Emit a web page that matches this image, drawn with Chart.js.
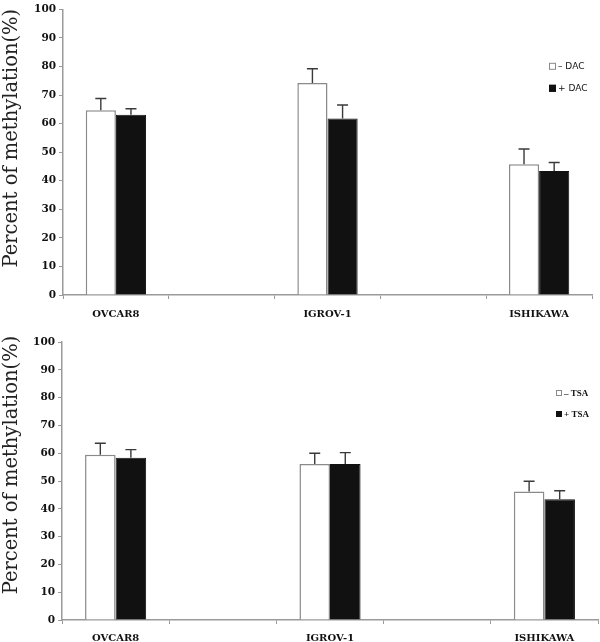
<!DOCTYPE html>
<html>
<head>
<meta charset="utf-8">
<script src="https://cdn.jsdelivr.net/npm/chart.js@4.4.1/dist/chart.umd.min.js"></script>
<style>
  html, body { margin: 0; padding: 0; background: #fff; }
  #wrap { position: relative; width: 600px; height: 642px; }
  #c1 { position: absolute; left: 0; top: 0; }
  #c2 { position: absolute; left: 0; top: 320px; }
</style>
</head>
<body>
<div id="wrap">
  <canvas id="c1" width="600" height="320"></canvas>
  <canvas id="c2" width="600" height="322"></canvas>
</div>
<script>
// ---- Data ----
const categories = ['OVCAR8', '', 'IGROV-1', '', 'ISHIKAWA'];
const yTicks = [0, 10, 20, 30, 40, 50, 60, 70, 80, 90, 100];
const yTitle = 'Percent of methylation(%)';

// Panel 1: DAC
const dacLabels = ['\u2013 DAC', '+ DAC'];
const dacMinus = [64.7, null, 74.2, null, 45.8];
const dacMinusErr = [4.1, null, 5.0, null, 5.3];
const dacPlus = [63.1, null, 61.8, null, 43.4];
const dacPlusErr = [2.1, null, 4.7, null, 3.0];

// Panel 2: TSA
const tsaLabels = ['\u2013 TSA', '+ TSA'];
const tsaMinus = [59.4, null, 56.1, null, 46.2];
const tsaMinusErr = [4.2, null, 3.9, null, 3.7];
const tsaPlus = [58.4, null, 56.1, null, 43.4];
const tsaPlusErr = [2.9, null, 4.1, null, 3.1];

// ---- Plugins ----
const errorBarPlugin = {
  id: 'errorBars',
  afterDatasetsDraw(chart) {
    const ctx = chart.ctx;
    const y = chart.scales.y;
    chart.data.datasets.forEach((ds, di) => {
      const meta = chart.getDatasetMeta(di);
      if (!ds.errors) return;
      meta.data.forEach((bar, i) => {
        const v = ds.data[i], e = ds.errors[i];
        if (v == null || e == null) return;
        const yTop = y.getPixelForValue(v + e);
        const yBase = y.getPixelForValue(v);
        ctx.save();
        ctx.strokeStyle = '#3a3a3a';
        ctx.lineWidth = 1.4;
        ctx.beginPath();
        ctx.moveTo(bar.x, yBase);
        ctx.lineTo(bar.x, yTop);
        ctx.moveTo(bar.x - 5.5, yTop);
        ctx.lineTo(bar.x + 5.5, yTop);
        ctx.stroke();
        ctx.restore();
      });
    });
  }
};

const legendPlugin = {
  id: 'miniLegend',
  afterDraw(chart, args, opts) {
    const ctx = chart.ctx;
    const a = chart.chartArea;
    ctx.save();
    chart.data.datasets.forEach((ds, i) => {
      const x = a.right + opts.dx;
      const yc = a.top + opts.dy + i * opts.gap;
      const s = opts.box;
      ctx.fillStyle = ds.backgroundColor;
      ctx.fillRect(x, yc - s / 2, s, s);
      ctx.strokeStyle = ds.borderColor;
      ctx.lineWidth = 1;
      ctx.strokeRect(x + 0.5, yc - s / 2 + 0.5, s - 1, s - 1);
      ctx.fillStyle = '#111';
      ctx.font = opts.font;
      ctx.textBaseline = 'middle';
      ctx.textAlign = 'left';
      ctx.fillText(ds.label, x + s + 2, yc + 0.5);
    });
    ctx.restore();
  }
};

const yTitlePlugin = {
  id: 'yTitle',
  afterDraw(chart, args, opts) {
    const ctx = chart.ctx;
    const a = chart.chartArea;
    ctx.save();
    ctx.translate(opts.x, (a.top + a.bottom) / 2 + opts.shift);
    ctx.rotate(-Math.PI / 2);
    ctx.fillStyle = '#222';
    ctx.font = opts.font;
    ctx.textAlign = 'center';
    ctx.textBaseline = 'middle';
    ctx.fillText(opts.text, 0, 0);
    ctx.restore();
  }
};

function makeChart(canvasId, labels, minus, minusErr, plus, plusErr, cfg) {
  return new Chart(document.getElementById(canvasId), {
    type: 'bar',
    data: {
      labels: categories,
      datasets: [
        { label: labels[0], data: minus, errors: minusErr,
          backgroundColor: '#ffffff', borderColor: '#8a8a8a', borderWidth: 1.5,
          categoryPercentage: 0.57, barPercentage: 1.0, skipNull: true },
        { label: labels[1], data: plus, errors: plusErr,
          backgroundColor: '#111111', borderColor: '#111111', borderWidth: 1,
          categoryPercentage: 0.57, barPercentage: 1.0, skipNull: true }
      ]
    },
    options: {
      responsive: false,
      animation: false,
      devicePixelRatio: 1,
      layout: { padding: { top: cfg.padTop, right: cfg.padRight, left: 0, bottom: 0 } },
      plugins: {
        legend: { display: false },
        tooltip: { enabled: false },
        miniLegend: cfg.legend,
        yTitle: { text: yTitle, x: 12, shift: cfg.titleShift, font: '19.5px "DejaVu Serif"' }
      },
      scales: {
        x: {
          grid: { display: true, drawOnChartArea: false, drawTicks: true, tickLength: 4,
                  color: '#9a9a9a', offset: true },
          border: { display: true, color: '#9a9a9a', width: 1.5 },
          ticks: { color: '#111', font: { family: 'DejaVu Serif', weight: 'bold', size: 10 },
                   padding: cfg.xPad, maxRotation: 0, autoSkip: false },
          afterFit(scale) { scale.height = cfg.xHeight; }
        },
        y: {
          min: 0, max: 100,
          afterBuildTicks(scale) { scale.ticks = yTicks.map(v => ({ value: v })); },
          grid: { display: true, drawOnChartArea: false, drawTicks: true, tickLength: 4,
                  color: '#9a9a9a' },
          border: { display: true, color: '#9a9a9a', width: 1.5 },
          ticks: { color: '#111', font: { family: 'DejaVu Serif', weight: 'bold', size: 10.5 },
                   padding: 3 },
          title: { display: false },
          afterFit(scale) { scale.width = cfg.yWidth; }
        }
      }
    },
    plugins: [errorBarPlugin, legendPlugin, yTitlePlugin]
  });
}

makeChart('c1', dacLabels, dacMinus, dacMinusErr, dacPlus, dacPlusErr, {
  padTop: 0, padRight: 8, xHeight: 25, yWidth: 63, xPad: 9, titleShift: -14,
  legend: { dx: -43, dy: 57, gap: 22, box: 7, font: '9px "DejaVu Sans"' }
});
makeChart('c2', tsaLabels, tsaMinus, tsaMinusErr, tsaPlus, tsaPlusErr, {
  padTop: 22, padRight: 2, xHeight: 22, yWidth: 62, xPad: 8, titleShift: -16,
  legend: { dx: -42, dy: 51, gap: 21, box: 6, font: 'bold 9px "Liberation Serif"' }
});
</script>
</body>
</html>
